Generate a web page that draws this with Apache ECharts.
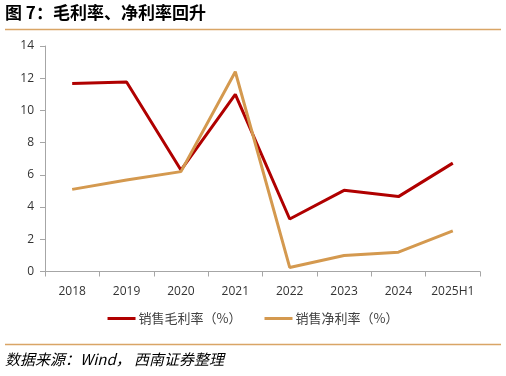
<!DOCTYPE html>
<html><head><meta charset="utf-8">
<script src="https://cdn.jsdelivr.net/npm/echarts@6/dist/echarts.min.js"></script>
<style>html,body{margin:0;padding:0;background:#fff}#c{width:506px;height:376px}</style>
</head><body><div id="c"></div>
<script>
const categories = ['2018','2019','2020','2021','2022','2023','2024','2025H1'];
const grossMargin = [11.67, 11.77, 6.3, 11.0, 3.26, 5.04, 4.65, 6.73];
const netMargin = [5.1, 5.68, 6.2, 12.4, 0.25, 0.99, 1.2, 2.52];
const yTicks = [0, 2, 4, 6, 8, 10, 12, 14];
const seriesNames = ['销售毛利率（%）', '销售净利率（%）'];
const titleText = '图 7：毛利率、净利率回升';
const sourceText = '数据来源：Wind， 西南证券整理';

const chart = echarts.init(document.getElementById('c'));
const font = '"Noto Sans CJK SC", "Noto Sans", sans-serif';
chart.setOption({
  animation: false,
  textStyle: { fontFamily: font },
  graphic: [
    { type: 'text', left: 5, top: 4, style: { text: titleText, font: 'bold 17px "Noto Sans CJK SC"', fill: '#000' } },
    { type: 'line', shape: { x1: 5, y1: 29.5, x2: 501, y2: 29.5 }, style: { stroke: '#D9A566', lineWidth: 1.5 } },
    { type: 'line', shape: { x1: 5, y1: 344.5, x2: 501, y2: 344.5 }, style: { stroke: '#D9A566', lineWidth: 1.5 } },
    { type: 'text', left: 5, top: 352, style: { text: sourceText, font: 'italic 15px "Noto Sans CJK SC"', fill: '#000' } }
  ],
  grid: { left: 45, right: 26, top: 46, bottom: 104.5 },
  legend: {
    bottom: 46, left: 'center', itemGap: 23, itemWidth: 28, itemHeight: 3,
    icon: 'rect',
    textStyle: { fontSize: 13, color: '#404040', fontFamily: font, padding: [0, 0, 0, -2] },
    data: seriesNames
  },
  xAxis: {
    type: 'category', data: categories, boundaryGap: true,
    axisLine: { lineStyle: { color: '#A6A6A6', width: 1 } },
    axisTick: { show: true, alignWithLabel: false, length: 5, interval: 0, lineStyle: { color: '#A6A6A6' } },
    axisLabel: { color: '#333', fontSize: 12, margin: 14, interval: 0, fontFamily: '"Open Sans", sans-serif' }
  },
  yAxis: {
    type: 'value', min: yTicks[0], max: yTicks[yTicks.length - 1], interval: 2,
    splitLine: { show: false },
    axisLine: { show: true, lineStyle: { color: '#A6A6A6', width: 1 } },
    axisTick: { show: true, length: 5, lineStyle: { color: '#A6A6A6' } },
    axisLabel: { color: '#333', fontSize: 12, margin: 11, fontFamily: '"Open Sans", sans-serif' }
  },
  series: [
    { name: seriesNames[0], type: 'line', data: grossMargin, symbol: 'none',
      lineStyle: { color: '#B00000', width: 3 }, itemStyle: { color: '#B00000' } },
    { name: seriesNames[1], type: 'line', data: netMargin, symbol: 'none',
      lineStyle: { color: '#D4994F', width: 3 }, itemStyle: { color: '#D4994F' } }
  ]
});
</script></body></html>
